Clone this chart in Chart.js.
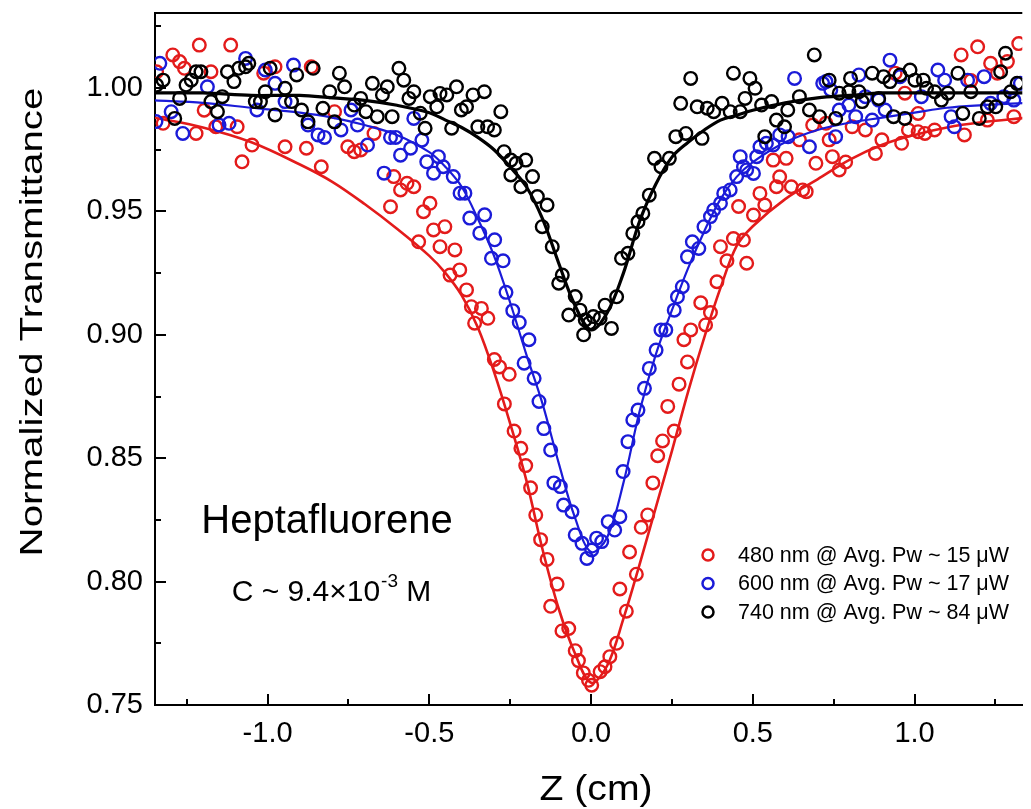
<!DOCTYPE html>
<html lang="en">
<head>
<meta charset="UTF-8">
<title>Z-scan Heptafluorene</title>
<style>
  html, body { margin: 0; padding: 0; background: #fff; }
  #wrap { width: 1031px; height: 809px; }
</style>
</head>
<body>
<script src="https://cdn.jsdelivr.net/npm/chart.js"></script>
<div id="wrap"><canvas id="c" width="1031" height="809"></canvas></div>
<script>
// ---- measured points (Z in cm, normalized transmittance) ----
const z480 = [-1.343,-1.323,-1.293,-1.272,-1.257,-1.221,-1.211,-1.196,-1.175,-1.160,-1.114,-1.094,-1.079,-1.048,-1.012,-0.977,-0.946,-0.880,-0.865,-0.834,-0.793,-0.752,-0.732,-0.712,-0.671,-0.620,-0.610,-0.589,-0.569,-0.548,-0.533,-0.518,-0.498,-0.487,-0.467,-0.452,-0.436,-0.421,-0.406,-0.385,-0.370,-0.360,-0.339,-0.319,-0.299,-0.283,-0.268,-0.253,-0.238,-0.217,-0.202,-0.187,-0.171,-0.156,-0.136,-0.125,-0.105,-0.090,-0.069,-0.049,-0.039,-0.024,-0.008,0.002,0.028,0.043,0.058,0.079,0.089,0.109,0.119,0.140,0.155,0.175,0.191,0.206,0.221,0.237,0.257,0.272,0.287,0.298,0.308,0.339,0.354,0.369,0.389,0.400,0.420,0.440,0.456,0.471,0.481,0.502,0.522,0.537,0.563,0.573,0.583,0.603,0.619,0.644,0.654,0.665,0.685,0.695,0.726,0.736,0.746,0.767,0.787,0.807,0.848,0.879,0.899,0.940,0.960,0.970,0.981,1.011,1.011,1.032,1.062,1.144,1.154,1.174,1.195,1.225,1.235,1.256,1.287,1.307,1.322];
const t480 = [1.0066,0.9857,1.0134,1.0107,1.0080,0.9816,1.0174,0.9910,1.0066,0.9843,1.0174,0.9843,0.9701,0.9769,1.0060,1.0086,0.9762,0.9756,1.0086,0.9681,0.9904,0.9762,0.9742,0.9749,0.9816,0.9519,0.9641,0.9587,0.9614,0.9600,0.9377,0.9499,0.9533,0.9425,0.9357,0.9438,0.9242,0.9344,0.9263,0.9182,0.9114,0.9047,0.9107,0.9067,0.8900,0.8870,0.8720,0.8840,0.8610,0.8540,0.8470,0.8380,0.8270,0.8170,0.8090,0.7900,0.7990,0.7800,0.7810,0.7720,0.7680,0.7630,0.7600,0.7580,0.7635,0.7655,0.7696,0.7750,0.7970,0.7880,0.8120,0.8030,0.8220,0.8270,0.8400,0.8510,0.8570,0.8710,0.8610,0.8800,0.8980,0.8890,0.9020,0.9130,0.9040,0.9090,0.9215,0.9357,0.9300,0.9390,0.9520,0.9384,0.9290,0.9485,0.9573,0.9526,0.9708,0.9600,0.9640,0.9715,0.9600,0.9790,0.9587,0.9580,0.9850,0.9695,0.9857,0.9790,0.9722,0.9668,0.9700,0.9843,0.9830,0.9735,0.9790,1.0060,0.9776,0.9979,0.9830,0.9823,0.9897,0.9816,0.9830,1.0134,0.9810,1.0030,1.0167,0.9870,1.0100,1.0060,1.0107,0.9884,1.0180];

const z600 = [-1.345,-1.333,-1.298,-1.262,-1.186,-1.150,-1.119,-1.068,-1.033,-1.007,-0.977,-0.946,-0.920,-0.875,-0.844,-0.824,-0.773,-0.742,-0.722,-0.691,-0.640,-0.620,-0.604,-0.589,-0.558,-0.548,-0.523,-0.508,-0.487,-0.472,-0.457,-0.426,-0.405,-0.390,-0.375,-0.344,-0.329,-0.308,-0.298,-0.272,-0.263,-0.242,-0.222,-0.207,-0.192,-0.176,-0.161,-0.146,-0.125,-0.115,-0.095,-0.085,-0.059,-0.049,-0.028,-0.013,0.002,0.017,0.033,0.053,0.073,0.089,0.099,0.114,0.129,0.145,0.165,0.180,0.201,0.216,0.231,0.257,0.267,0.282,0.298,0.313,0.333,0.349,0.369,0.379,0.400,0.410,0.430,0.450,0.461,0.471,0.481,0.502,0.512,0.522,0.542,0.563,0.583,0.609,0.629,0.675,0.716,0.726,0.741,0.756,0.767,0.797,0.818,0.828,0.848,0.869,0.889,0.909,0.924,0.955,1.021,1.072,1.093,1.113,1.123,1.164,1.215,1.235,1.276,1.307,1.327];
const t600 = [0.9864,1.0100,0.9904,0.9816,1.0005,0.9850,0.9857,1.0120,0.9911,1.0073,1.0019,0.9945,1.0093,0.9850,0.9810,0.9800,0.9830,0.9911,0.9850,0.9769,0.9655,0.9800,0.9800,0.9728,0.9756,0.9877,0.9789,0.9701,0.9655,0.9722,0.9681,0.9641,0.9574,0.9574,0.9473,0.9412,0.9486,0.9310,0.9385,0.9300,0.9172,0.9098,0.9050,0.8885,0.8980,0.8824,0.8730,0.8620,0.8533,0.8400,0.8385,0.8310,0.8283,0.8189,0.8155,0.8094,0.8128,0.8176,0.8162,0.8243,0.8209,0.8263,0.8446,0.8567,0.8655,0.8695,0.8783,0.8864,0.8938,0.9020,0.9020,0.9100,0.9154,0.9195,0.9316,0.9377,0.9350,0.9438,0.9479,0.9506,0.9533,0.9573,0.9587,0.9641,0.9722,0.9681,0.9668,0.9654,0.9722,0.9762,0.9776,0.9769,0.9810,0.9803,1.0039,0.9762,1.0019,1.0026,0.9992,0.9803,0.9911,0.9931,0.9884,1.0053,0.9965,0.9870,0.9951,0.9911,1.0113,1.0046,0.9965,1.0073,1.0032,0.9884,0.9843,1.0032,1.0046,0.9938,0.9965,0.9951,1.0019];

const z740 = [-1.343,-1.323,-1.287,-1.272,-1.252,-1.236,-1.221,-1.206,-1.175,-1.155,-1.140,-1.124,-1.104,-1.089,-1.068,-1.058,-1.038,-1.022,-1.007,-0.992,-0.977,-0.946,-0.926,-0.910,-0.895,-0.875,-0.859,-0.829,-0.808,-0.793,-0.778,-0.762,-0.732,-0.712,-0.696,-0.676,-0.661,-0.645,-0.630,-0.615,-0.594,-0.579,-0.563,-0.548,-0.528,-0.513,-0.497,-0.477,-0.467,-0.446,-0.431,-0.416,-0.401,-0.385,-0.365,-0.350,-0.330,-0.320,-0.299,-0.279,-0.269,-0.248,-0.248,-0.232,-0.217,-0.202,-0.181,-0.166,-0.151,-0.136,-0.120,-0.100,-0.089,-0.069,-0.049,-0.034,-0.023,-0.018,-0.006,0.007,0.028,0.043,0.063,0.079,0.094,0.114,0.129,0.145,0.160,0.180,0.196,0.216,0.242,0.262,0.277,0.293,0.308,0.328,0.343,0.359,0.379,0.405,0.430,0.440,0.461,0.476,0.491,0.507,0.527,0.537,0.558,0.573,0.598,0.608,0.644,0.675,0.690,0.706,0.736,0.756,0.767,0.797,0.802,0.828,0.838,0.869,0.889,0.904,0.924,0.935,0.955,0.970,0.986,1.001,1.027,1.037,1.062,1.083,1.103,1.134,1.149,1.174,1.200,1.225,1.251,1.266,1.281,1.297,1.317];
const t740 = [1.0012,1.0032,0.9877,0.9958,1.0012,1.0032,1.0066,1.0066,0.9945,0.9904,0.9965,1.0066,1.0026,1.0080,1.0086,1.0100,0.9945,0.9945,0.9985,1.0080,0.9891,0.9999,0.9945,1.0053,0.9911,0.9863,1.0080,0.9918,0.9985,0.9863,1.0060,1.0005,0.9931,0.9958,0.9904,1.0019,0.9884,0.9972,1.0005,0.9884,1.0080,1.0032,0.9958,0.9985,0.9898,0.9837,0.9965,0.9924,0.9978,0.9972,0.9837,1.0005,0.9911,0.9924,0.9972,0.9843,0.9985,0.9843,0.9830,0.9904,0.9742,0.9708,0.9648,0.9695,0.9600,0.9708,0.9641,0.9560,0.9438,0.9526,0.9357,0.9209,0.9242,0.9080,0.9155,0.9100,0.9000,0.9060,0.9047,0.9074,0.9067,0.9120,0.9026,0.9154,0.9310,0.9330,0.9411,0.9458,0.9492,0.9566,0.9715,0.9681,0.9715,0.9803,0.9938,0.9816,1.0039,0.9924,0.9796,0.9918,0.9904,0.9938,0.9904,1.0060,0.9904,0.9958,1.0039,0.9999,0.9931,0.9803,0.9945,0.9870,0.9843,0.9911,0.9965,0.9911,1.0134,0.9884,1.0032,0.9877,0.9979,0.9985,1.0039,0.9985,0.9945,1.0060,0.9958,1.0046,1.0026,0.9884,1.0053,0.9877,1.0073,1.0032,1.0032,0.9999,0.9985,0.9951,0.9979,1.0060,0.9897,0.9985,0.9877,0.9924,0.9924,1.0066,1.0141,0.9985,1.0019];

// ---- fitted curves at these Z positions ----
const fitZ   = [-1.35,-1.2,-1.05,-0.9,-0.8,-0.7,-0.6,-0.5,-0.45,-0.4,-0.35,-0.3,-0.25,-0.2,-0.15,-0.1,-0.05,0,0.05,0.1,0.15,0.2,0.25,0.3,0.35,0.4,0.45,0.5,0.6,0.7,0.8,0.9,1.0,1.1,1.2,1.35];
const fit480 = [0.988,0.984,0.978,0.969,0.962,0.953,0.943,0.932,0.925,0.916,0.903,0.885,0.864,0.841,0.813,0.789,0.771,0.759,0.766,0.785,0.807,0.830,0.853,0.877,0.899,0.919,0.936,0.944,0.955,0.963,0.971,0.977,0.981,0.984,0.986,0.988];
const fit600 = [0.995,0.994,0.992,0.990,0.988,0.985,0.981,0.974,0.968,0.960,0.947,0.932,0.913,0.892,0.872,0.848,0.826,0.812,0.818,0.840,0.869,0.892,0.910,0.927,0.942,0.955,0.964,0.970,0.978,0.983,0.986,0.988,0.990,0.992,0.993,0.994];
const fit740 = [0.998,0.998,0.997,0.997,0.996,0.995,0.993,0.990,0.987,0.984,0.980,0.975,0.968,0.960,0.947,0.929,0.912,0.902,0.909,0.925,0.946,0.961,0.972,0.978,0.983,0.987,0.989,0.991,0.994,0.996,0.997,0.998,0.998,0.998,0.998,0.998];

// ---- axes ----
const xMajor = [-1.0, -0.5, 0.0, 0.5, 1.0];
const xMinor = [-1.25, -0.75, -0.25, 0.25, 0.75, 1.25];
const yMajor = [0.75, 0.80, 0.85, 0.90, 0.95, 1.00];
const yMinor = [0.775, 0.825, 0.875, 0.925, 0.975, 1.025];

const seriesLabels = ['480 nm @ Avg. Pw ~ 15 \u03bcW', '600 nm @ Avg. Pw ~ 17 \u03bcW', '740 nm @ Avg. Pw ~ 84 \u03bcW'];
const FONT = 'Arial, "Liberation Sans", sans-serif';
const RED = '#e31b1b', BLUE = '#1b1bd8', BLACK = '#000000';

function pts(xs, ys) {
    return xs.map((x, i) => ({ x: x, y: ys[i] }));
}

function scatterSet(xs, ys, color) {
    return {
        data: pts(xs, ys),
        showLine: false,
        pointStyle: 'circle',
        pointRadius: 6.3,
        pointBorderWidth: 2.4,
        pointBorderColor: color,
        pointBackgroundColor: 'rgba(0,0,0,0)'
    };
}

function fitSet(ys, color, w) {
    return {
        data: pts(fitZ, ys),
        showLine: true,
        borderColor: color,
        borderWidth: w,
        pointRadius: 0,
        tension: 0.35,
        fill: false
    };
}

// inward ticks, top frame line, axis titles, legend and notes
const decor = {
    id: 'decor',
    afterDraw(chart) {
        const ctx = chart.ctx;
        const a = chart.chartArea;
        const xs = chart.scales.x, ys = chart.scales.y;
        ctx.save();
        ctx.strokeStyle = '#000';
        ctx.lineWidth = 2;
        ctx.beginPath();
        ctx.moveTo(a.left - 1, a.top);
        ctx.lineTo(a.right, a.top);
        const tx = (v, len) => {
            const p = Math.round(xs.getPixelForValue(v));
            ctx.moveTo(p, a.bottom);
            ctx.lineTo(p, a.bottom - len);
        };
        const ty = (v, len) => {
            const p = Math.round(ys.getPixelForValue(v));
            ctx.moveTo(a.left, p);
            ctx.lineTo(a.left + len, p);
        };
        xMajor.forEach(v => tx(v, 11));
        xMinor.forEach(v => tx(v, 6));
        yMajor.forEach(v => ty(v, 11));
        yMinor.forEach(v => ty(v, 6));
        ctx.stroke();

        ctx.fillStyle = '#000';
        ctx.textAlign = 'center';
        ctx.textBaseline = 'middle';

        // y title (stretched along its length like the original)
        ctx.save();
        ctx.translate(33, 322);
        ctx.rotate(-Math.PI / 2);
        ctx.scale(1.3, 1);
        ctx.font = '31px ' + FONT;
        ctx.fillText('Normalized Transmittance', 0, 0);
        ctx.restore();

        // x title
        ctx.save();
        ctx.translate(596, 790);
        ctx.scale(1.12, 1);
        ctx.font = '35px ' + FONT;
        ctx.fillText('Z (cm)', 0, 0);
        ctx.restore();

        // sample notes
        ctx.font = '40px ' + FONT;
        ctx.fillText('Heptafluorene', 327, 522);

        const p1 = 'C ~ 9.4\u00d710', sup = '-3', p2 = ' M';
        ctx.font = '30px ' + FONT;
        const w1 = ctx.measureText(p1).width, w3 = ctx.measureText(p2).width;
        ctx.font = '19px ' + FONT;
        const w2 = ctx.measureText(sup).width;
        let x0 = 331 - (w1 + w2 + w3) / 2;
        ctx.textAlign = 'left';
        ctx.font = '30px ' + FONT;
        ctx.fillText(p1, x0, 593);
        ctx.font = '19px ' + FONT;
        ctx.fillText(sup, x0 + w1 + 1, 582);
        ctx.font = '30px ' + FONT;
        ctx.fillText(p2, x0 + w1 + w2 + 1, 593);

        // legend
        const colors = [RED, BLUE, BLACK];
        ctx.font = '21.5px ' + FONT;
        seriesLabels.forEach((lab, i) => {
            const y = 555 + i * 28.5;
            ctx.beginPath();
            ctx.lineWidth = 2.5;
            ctx.strokeStyle = colors[i];
            ctx.arc(708, y, 5.5, 0, Math.PI * 2);
            ctx.stroke();
            ctx.fillStyle = '#000';
            ctx.fillText(lab, 738, y + 1);
        });
        ctx.restore();
    }
};

new Chart(document.getElementById('c'), {
    type: 'scatter',
    data: {
        datasets: [
            fitSet(fit740, BLACK, 3.2),
            scatterSet(z740, t740, BLACK),
            fitSet(fit600, BLUE, 2.2),
            scatterSet(z600, t600, BLUE),
            fitSet(fit480, RED, 2.6),
            scatterSet(z480, t480, RED)
        ]
    },
    options: {
        responsive: false,
        animation: false,
        events: [],
        layout: { padding: { top: 13, right: 0, bottom: 0, left: 0 } },
        plugins: { legend: { display: false }, tooltip: { enabled: false } },
        scales: {
            x: {
                type: 'linear',
                min: -1.348,
                max: 1.333,
                grid: { display: false, drawTicks: false },
                border: { display: true, color: '#000', width: 2 },
                ticks: {
                    color: '#000',
                    padding: 12,
                    font: { family: FONT, size: 29 },
                    callback: v => v.toFixed(1)
                },
                afterBuildTicks: s => { s.ticks = xMajor.map(v => ({ value: v })); },
                afterFit: s => { s.height = 104; s.paddingLeft = 0; s.paddingRight = 0; }
            },
            y: {
                type: 'linear',
                min: 0.75,
                max: 1.0304,
                grid: { display: false, drawTicks: false },
                border: { display: true, color: '#000', width: 2 },
                ticks: {
                    color: '#000',
                    padding: 12,
                    font: { family: FONT, size: 29 },
                    callback: v => v.toFixed(2)
                },
                afterBuildTicks: s => { s.ticks = yMajor.map(v => ({ value: v })); },
                afterFit: s => { s.width = 155; s.paddingTop = 0; s.paddingBottom = 0; }
            }
        }
    },
    plugins: [decor]
});
</script>
</body>
</html>
